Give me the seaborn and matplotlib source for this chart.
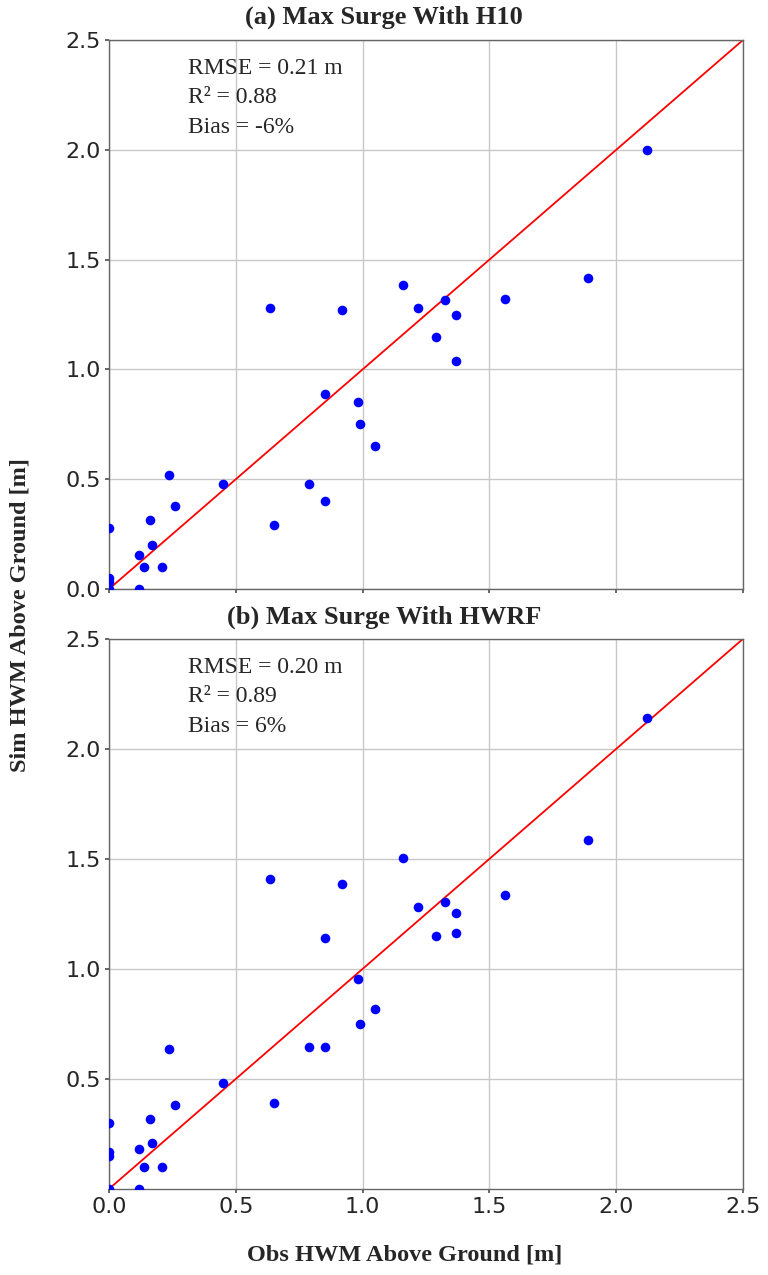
import matplotlib
matplotlib.use("Agg")
import matplotlib.pyplot as plt
import pandas as pd
import seaborn as sns

# Observed high-water marks above ground (m)
obs = [0.0, 0.0, 0.0, 0.0, 0.12, 0.12, 0.14, 0.16, 0.17, 0.21, 0.235, 0.26,
       0.45, 0.635, 0.65, 0.79, 0.85, 0.85, 0.92, 0.98, 0.99, 1.05, 1.16,
       1.22, 1.29, 1.325, 1.37, 1.37, 1.56, 1.89, 2.12]

# Simulated maximum surge, H10 wind forcing
sim_h10 = [0.28, 0.05, 0.03, 0.0, 0.0, 0.155, 0.10, 0.315, 0.20, 0.10, 0.52, 0.38,
           0.48, 1.28, 0.29, 0.48, 0.89, 0.40, 1.27, 0.85, 0.75, 0.65, 1.385,
           1.28, 1.15, 1.315, 1.25, 1.04, 1.32, 1.415, 2.0]

# Simulated maximum surge, HWRF wind forcing
sim_hwrf = [0.30, 0.17, 0.15, 0.0, 0.0, 0.18, 0.10, 0.32, 0.21, 0.10, 0.635, 0.38,
            0.48, 1.41, 0.39, 0.645, 1.14, 0.645, 1.385, 0.955, 0.75, 0.82, 1.505,
            1.28, 1.15, 1.305, 1.255, 1.165, 1.335, 1.585, 2.14]

panel_titles = ["(a) Max Surge With H10", "(b) Max Surge With HWRF"]
stats_text = ["RMSE = 0.21 m\nR\u00b2 = 0.88\nBias = -6%",
              "RMSE = 0.20 m\nR\u00b2 = 0.89\nBias = 6%"]
ticks = [0.0, 0.5, 1.0, 1.5, 2.0, 2.5]
yticks_b = [0.5, 1.0, 1.5, 2.0, 2.5]

sns.set_theme(style="whitegrid")
plt.rcParams["font.family"] = ["DejaVu Sans"]
plt.rcParams["grid.color"] = "#c8c8c8"
plt.rcParams["grid.linewidth"] = 1.0

fig = plt.figure(figsize=(7.68, 12.75), dpi=100)
ax_a = fig.add_axes([0.1419, 0.5380, 0.8255, 0.4306])
ax_b = fig.add_axes([0.1419, 0.0675, 0.8255, 0.4314])

serif = "Liberation Serif"
for ax, sim, title, txt in zip([ax_a, ax_b], [sim_h10, sim_hwrf], panel_titles, stats_text):
    df = pd.DataFrame({"obs": obs, "sim": sim})
    sns.scatterplot(data=df, x="obs", y="sim", ax=ax, color="#0000ff",
                    s=48, linewidth=0, zorder=3)
    ax.axline((0, 0), slope=1, color="red", lw=1.3, zorder=2)
    ax.set_xlim(0, 2.5)
    ax.set_ylim(0, 2.5)
    ax.set_xticks(ticks)
    ax.set_xlabel("")
    ax.set_ylabel("")
    ax.tick_params(axis="both", labelsize=16, length=3, color="#555555", pad=3,
                   left=True, bottom=True)
    for sp in ax.spines.values():
        sp.set_color("#666666")
        sp.set_linewidth(1.0)
    ax.text(0.31, 2.42, txt, fontsize=17, family=serif, va="top", ha="left",
            linespacing=1.55)

ax_a.set_yticks(ticks)
ax_a.set_xticklabels([])
ax_b.set_yticks(yticks_b)
ax_b.set_xticklabels([f"{t:.1f}" for t in ticks])
ax_b.set_yticklabels([f"{t:.1f}" for t in yticks_b])

fig.text(0.5, 1 - 17 / 1275, panel_titles[0], ha="center", va="center",
         fontsize=19, family=serif, fontweight="bold")
fig.text(0.5, 1 - 617 / 1275, panel_titles[1], ha="center", va="center",
         fontsize=19, family=serif, fontweight="bold")
fig.text(20 / 768, 1 - 615 / 1275, "Sim HWM Above Ground [m]", rotation=90,
         ha="center", va="center", fontsize=17.5, family=serif, fontweight="bold")
fig.text(405 / 768, 1 - 1255 / 1275, "Obs HWM Above Ground [m]",
         ha="center", va="center", fontsize=17.5, family=serif, fontweight="bold")

fig.savefig("out.png", dpi=100)
